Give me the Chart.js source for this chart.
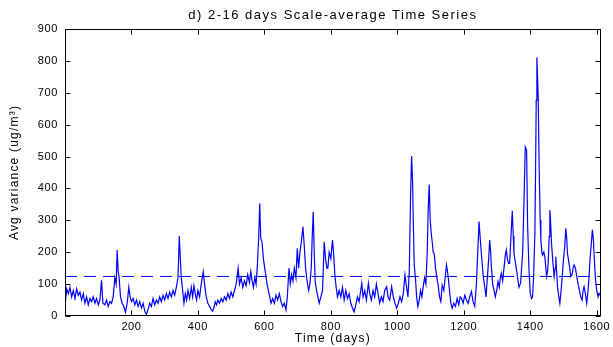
<!DOCTYPE html>
<html>
<head>
<meta charset="utf-8">
<script src="https://cdn.jsdelivr.net/npm/chart.js@4"></script>
<style>
  html, body { margin: 0; padding: 0; background: #fff; }
  canvas { display: block; }
</style>
</head>
<body>
<canvas id="scaleChart" width="613" height="347"></canvas>
<script>
// --- dati ---
const chartTitle = 'd) 2-16 days Scale-average Time Series';
const xTitle = 'Time (days)';
const yTitle = 'Avg variance (ug/m\u00B3)';

const xTicks = [200, 400, 600, 800, 1000, 1200, 1400, 1600];
const yTicks = [0, 100, 200, 300, 400, 500, 600, 700, 800, 900];

// livello medio (linea tratteggiata)
const meanLevel = 124;

const days = [
  1, 5, 10, 15, 20, 25, 30, 35, 40, 45, 50, 55, 60, 65, 70, 75, 80, 85, 90, 95,
  100, 105, 110, 114, 120, 125, 130, 135, 140, 145, 150, 154, 157, 160, 163, 167, 172, 177, 182, 187,
  192, 196, 200, 205, 210, 215, 220, 225, 230, 235, 240, 245, 250, 255, 260, 265, 270, 275, 280, 285,
  290, 295, 300, 305, 310, 315, 320, 325, 330, 335, 340, 344, 347, 350, 354, 358, 362, 366, 370, 375,
  380, 384, 388, 392, 396, 400, 405, 410, 416, 420, 425, 430, 435, 440, 444, 448, 452, 456, 460, 465,
  470, 475, 480, 485, 490, 495, 500, 505, 510, 515, 521, 525, 530, 535, 540, 545, 550, 555, 559, 563,
  567, 571, 575, 579, 583, 586, 589, 593, 597, 601, 604, 608, 612, 616, 620, 625, 630, 635, 640, 645,
  650, 655, 660, 665, 669, 674, 678, 682, 686, 690, 695, 699, 703, 707, 711, 716, 720, 724, 729, 733,
  737, 741, 744, 747, 750, 753, 757, 761, 765, 770, 775, 780, 784, 788, 791, 795, 800, 805, 808, 812,
  816, 820, 825, 830, 835, 840, 845, 850, 855, 860, 865, 870, 875, 880, 885, 890, 893, 897, 902, 907,
  913, 917, 922, 927, 932, 937, 942, 947, 952, 957, 962, 968, 972, 977, 983, 988, 993, 998, 1003, 1008,
  1013, 1018, 1023, 1028, 1032, 1036, 1040, 1043, 1046, 1048, 1051, 1055, 1058, 1062, 1066, 1070, 1074, 1078, 1082, 1086,
  1090, 1093, 1096, 1099, 1102, 1105, 1108, 1111, 1115, 1119, 1123, 1127, 1131, 1135, 1140, 1144, 1148, 1151, 1153, 1157,
  1161, 1165, 1170, 1175, 1180, 1185, 1189, 1193, 1198, 1203, 1208, 1213, 1218, 1223, 1228, 1233, 1238, 1242, 1246, 1249,
  1253, 1258, 1263, 1267, 1271, 1275, 1278, 1281, 1283, 1287, 1291, 1295, 1299, 1303, 1307, 1310, 1313, 1317, 1321, 1325,
  1328, 1331, 1335, 1338, 1342, 1346, 1349, 1351, 1355, 1358, 1362, 1366, 1371, 1374, 1377, 1381, 1385, 1389, 1392, 1396,
  1400, 1404, 1407, 1410, 1414, 1416, 1418, 1420, 1422, 1424, 1427, 1430, 1432, 1435, 1437, 1441, 1444, 1447, 1449, 1452,
  1454, 1457, 1459, 1462, 1464, 1468, 1472, 1475, 1477, 1480, 1482, 1486, 1489, 1492, 1496, 1500, 1504, 1507, 1510, 1512,
  1516, 1519, 1522, 1526, 1529, 1532, 1536, 1540, 1544, 1548, 1552, 1556, 1559, 1562, 1566, 1570, 1574, 1577, 1580, 1584,
  1587, 1590, 1592, 1596, 1600, 1604, 1607, 1610
];

const variance = [
  40, 85, 70, 90, 60, 80, 55, 85, 65, 75, 50, 70, 40, 60, 35, 55, 45, 60, 40, 55,
  35, 50, 112, 40, 35, 50, 30, 45, 40, 60, 120, 100, 207, 140, 120, 60, 40, 30, 12, 40,
  90, 60, 45, 55, 35, 50, 30, 45, 25, 40, 15, 5, 20, 40, 30, 55, 35, 50, 40, 60,
  45, 65, 50, 70, 55, 75, 60, 80, 65, 90, 120, 251, 180, 120, 80, 40, 70, 50, 80, 55,
  90, 60, 95, 70, 50, 80, 60, 100, 139, 100, 60, 40, 30, 20, 15, 25, 45, 35, 50, 40,
  55, 45, 60, 50, 70, 55, 75, 60, 80, 100, 150, 100, 120, 90, 110, 95, 130, 105, 140, 110,
  90, 120, 100, 160, 250, 353, 245, 230, 180, 150, 130, 100, 80, 60, 40, 55, 40, 65, 50, 70,
  45, 30, 40, 19, 60, 150, 100, 130, 110, 150, 120, 212, 150, 200, 230, 280, 220, 150, 106, 80,
  100, 150, 250, 327, 200, 106, 80, 60, 40, 60, 80, 233, 180, 150, 150, 200, 180, 238, 200, 130,
  90, 60, 80, 60, 90, 50, 80, 55, 70, 40, 25, 13, 35, 60, 45, 80, 103, 60, 80, 50,
  103, 70, 50, 80, 60, 100, 70, 40, 60, 45, 80, 92, 60, 50, 92, 60, 40, 24, 40, 60,
  45, 70, 129, 90, 60, 140, 380, 501, 420, 301, 160, 113, 60, 30, 50, 80, 60, 92, 120, 100,
  200, 337, 412, 300, 260, 233, 200, 196, 150, 120, 97, 60, 45, 97, 80, 120, 160, 140, 124, 80,
  40, 24, 40, 30, 55, 35, 60, 56, 40, 65, 50, 40, 60, 77, 45, 30, 100, 200, 296, 250,
  196, 130, 92, 60, 120, 180, 238, 200, 155, 100, 80, 60, 80, 108, 90, 120, 134, 110, 150, 190,
  207, 180, 165, 165, 250, 330, 250, 196, 170, 150, 120, 90, 103, 150, 196, 350, 530, 520, 290, 150,
  71, 55, 60, 120, 259, 450, 676, 811, 750, 686, 457, 300, 238, 200, 191, 200, 186, 150, 124, 140,
  165, 250, 332, 280, 228, 170, 124, 150, 186, 130, 92, 60, 40, 71, 120, 176, 220, 275, 240, 196,
  170, 150, 124, 130, 150, 160, 150, 124, 100, 80, 60, 50, 80, 92, 70, 40, 80, 124, 180, 230,
  270, 240, 196, 120, 81, 60, 71, 65
];

const seriesPoints = days.map((d, i) => ({ x: d, y: variance[i] }));
const meanPoints = [{ x: 0, y: meanLevel }, { x: 1612, y: meanLevel }];

// cornice stile MATLAB: box, tacche interne, titoli
const matlabFrame = {
  id: 'matlabFrame',
  beforeDraw(chart) {
    const ctx = chart.ctx;
    ctx.save();
    ctx.fillStyle = '#fff';
    ctx.fillRect(0, 0, chart.width, chart.height);
    ctx.restore();
    ctx.letterSpacing = '0.6px';
  },
  afterDraw(chart) {
    const { ctx, chartArea: a, scales } = chart;
    const L = Math.round(a.left) + 0.5, R = Math.round(a.right) - 0.5;
    const T = Math.round(a.top) + 0.5, B = Math.round(a.bottom) - 0.5;
    ctx.save();
    ctx.strokeStyle = '#000';
    ctx.lineWidth = 1;
    ctx.strokeRect(L, T, R - L, B - T);
    ctx.beginPath();
    xTicks.forEach(v => {
      const px = Math.round(scales.x.getPixelForValue(v)) + 0.5;
      ctx.moveTo(px, B); ctx.lineTo(px, B - 5);
      ctx.moveTo(px, T); ctx.lineTo(px, T + 5);
    });
    yTicks.forEach(v => {
      const py = Math.round(scales.y.getPixelForValue(v)) + 0.5;
      ctx.moveTo(L, py); ctx.lineTo(L + 5, py);
      ctx.moveTo(R, py); ctx.lineTo(R - 5, py);
    });
    ctx.stroke();

    ctx.fillStyle = '#000';
    ctx.textAlign = 'center';
    ctx.textBaseline = 'middle';
    const cx = (a.left + a.right) / 2;
    ctx.font = '13px "Liberation Sans", Arial, sans-serif';
    ctx.letterSpacing = '1.5px';
    ctx.fillText(chartTitle, cx, 15);
    ctx.font = '12px "Liberation Sans", Arial, sans-serif';
    ctx.letterSpacing = '1.2px';
    ctx.fillText(xTitle, cx, 339);
    ctx.translate(15, (a.top + a.bottom) / 2);
    ctx.rotate(-Math.PI / 2);
    ctx.fillText(yTitle, 0, 0);
    ctx.restore();
  }
};

const ctx = document.getElementById('scaleChart').getContext('2d');
const scaleChart = new Chart(ctx, {
  type: 'line',
  data: {
    datasets: [
      {
        label: 'scale-average',
        data: seriesPoints,
        borderColor: '#0000ff',
        borderWidth: 1.2,
        pointRadius: 0,
        tension: 0,
        fill: false
      },
      {
        label: 'mean',
        data: meanPoints,
        borderColor: '#0000ff',
        borderWidth: 1,
        borderDash: [12, 7],
        pointRadius: 0,
        fill: false
      }
    ]
  },
  options: {
    responsive: false,
    animation: false,
    devicePixelRatio: 1,
    layout: { padding: { top: 29, right: 9, bottom: 0, left: 0 } },
    plugins: {
      legend: { display: false },
      tooltip: { enabled: false },
      title: { display: false }
    },
    scales: {
      x: {
        type: 'linear',
        min: 0,
        max: 1612,
        grid: { display: false, drawTicks: false },
        border: { display: false },
        afterBuildTicks: s => { s.ticks = xTicks.map(v => ({ value: v })); },
        afterFit: s => { s.height = 31; },
        ticks: {
          color: '#000',
          padding: 4,
          maxRotation: 0,
          autoSkip: false,
          callback: v => String(v),
          font: { family: '"Liberation Sans", Arial, sans-serif', size: 11 }
        }
      },
      y: {
        type: 'linear',
        min: 0,
        max: 900,
        grid: { display: false, drawTicks: false },
        border: { display: false },
        afterBuildTicks: s => { s.ticks = yTicks.map(v => ({ value: v })); },
        afterFit: s => { s.width = 65; },
        ticks: {
          color: '#000',
          padding: 7,
          callback: v => String(v),
          font: { family: '"Liberation Sans", Arial, sans-serif', size: 11 }
        }
      }
    }
  },
  plugins: [matlabFrame]
});
</script>
</body>
</html>
